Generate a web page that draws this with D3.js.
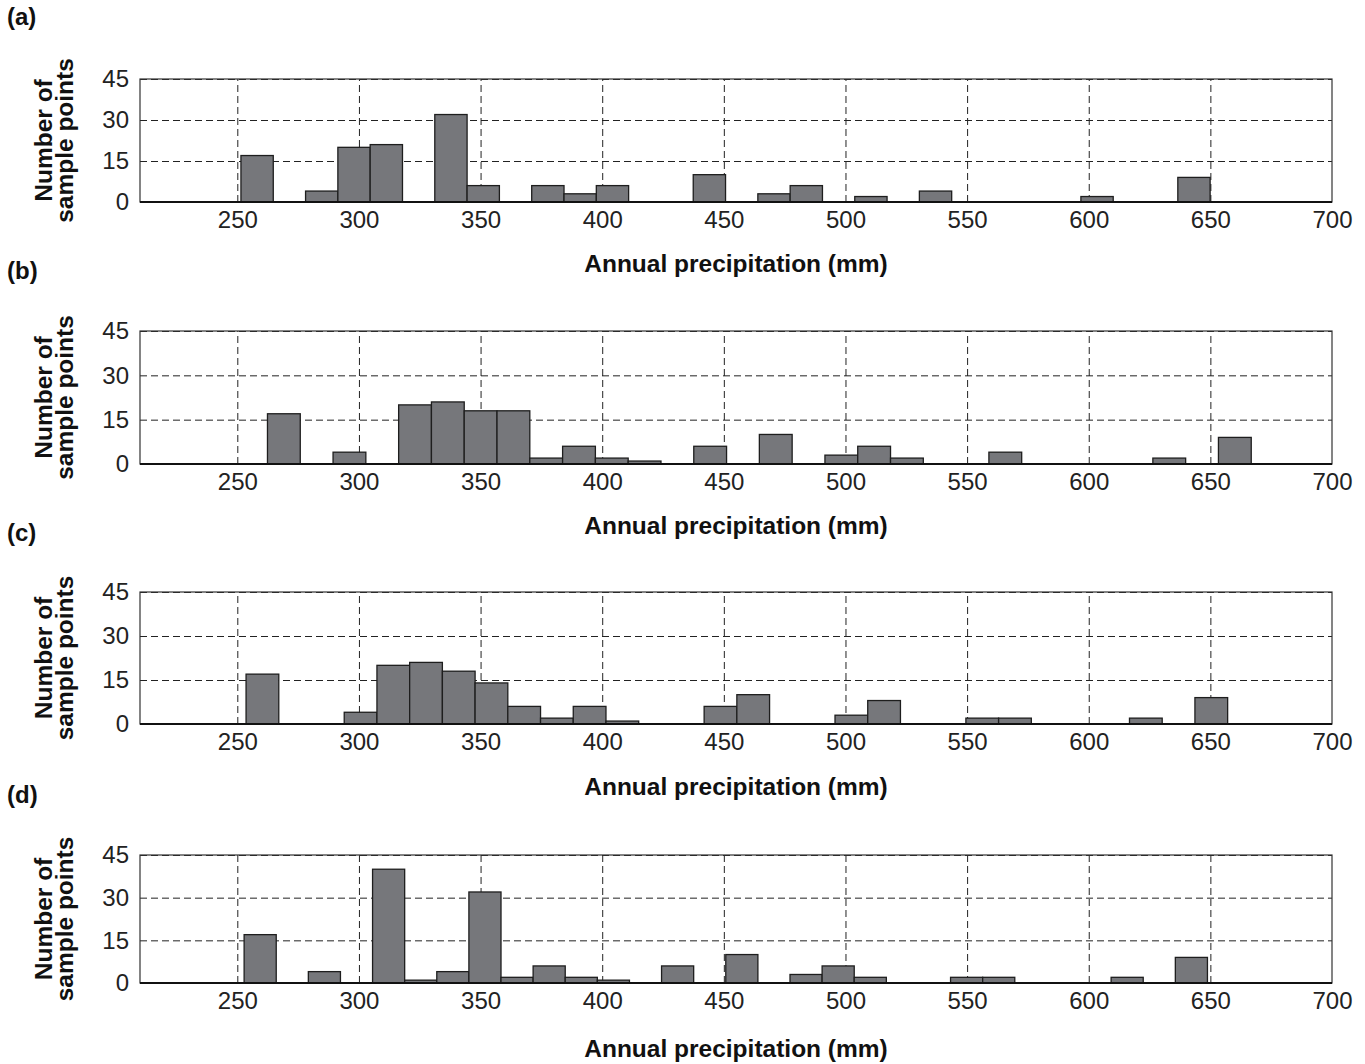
<!DOCTYPE html>
<html>
<head>
<meta charset="utf-8">
<script src="https://cdn.jsdelivr.net/npm/d3@7"></script>
<style>
  html, body { margin: 0; padding: 0; background: #fff; }
  svg { display: block; }
</style>
</head>
<body>
<svg id="chart" width="1365" height="1064"></svg>
<script>
// ---------------- data ----------------
const panelLabels = ["(a)", "(b)", "(c)", "(d)"];
const xTickValues = [250, 300, 350, 400, 450, 500, 550, 600, 650, 700];
const yTickValues = [0, 15, 30, 45];
const xTitle = "Annual precipitation (mm)";
const yTitleLines = ["Number of", "sample points"];

// histogram bins: first bin left edge and bin width (mm) per panel
const binStarts = [251.5, 262.4, 253.6, 252.8];
const binWidths = [13.28, 13.48, 13.45, 13.2];

// counts per bin (30 bins each)
const countsA = [17, 0, 4, 20, 21, 0, 32, 6, 0, 6, 3, 6, 0, 0, 10, 0, 3, 6, 0, 2, 0, 4, 0, 0, 0, 0, 2, 0, 0, 9];
const countsB = [17, 0, 4, 0, 20, 21, 18, 18, 2, 6, 2, 1, 0, 6, 0, 10, 0, 3, 6, 2, 0, 0, 4, 0, 0, 0, 0, 2, 0, 9];
const countsC = [17, 0, 0, 4, 20, 21, 18, 14, 6, 2, 6, 1, 0, 0, 6, 10, 0, 0, 3, 8, 0, 0, 2, 2, 0, 0, 0, 2, 0, 9];
const countsD = [17, 0, 4, 0, 40, 1, 4, 32, 2, 6, 2, 1, 0, 6, 0, 10, 0, 3, 6, 2, 0, 0, 2, 2, 0, 0, 0, 2, 0, 9];
const allCounts = [countsA, countsB, countsC, countsD];

// ---------------- layout ----------------
const plotLeft = 140, plotRight = 1332;
const panelTops = [79, 331, 592, 855];
const panelBottoms = [202, 464, 724, 983];
const labelBaselines = [25, 279, 541, 803];
const titleBaselines = [272, 534, 795, 1057];

const svg = d3.select("#chart");
const x = d3.scaleLinear().domain([210, 700]).range([plotLeft, plotRight]);

allCounts.forEach((counts, p) => {
  const top = panelTops[p], bottom = panelBottoms[p];
  const y = d3.scaleLinear().domain([0, 45]).range([bottom, top]);
  const g = svg.append("g");

  // grid (dashed)
  g.append("g")
    .attr("transform", `translate(0,${bottom})`)
    .call(d3.axisBottom(x).tickValues(xTickValues.filter(v => v < 700)).tickSize(-(bottom - top)).tickFormat(""))
    .call(a => a.select(".domain").remove())
    .selectAll("line").attr("stroke", "#222").attr("stroke-width", 1).attr("stroke-dasharray", "7,4");
  g.append("g")
    .attr("transform", `translate(${plotLeft},0)`)
    .call(d3.axisLeft(y).tickValues(yTickValues.filter(v => v > 0)).tickSize(-(plotRight - plotLeft)).tickFormat(""))
    .call(a => a.select(".domain").remove())
    .selectAll("line").attr("stroke", "#222").attr("stroke-width", 1).attr("stroke-dasharray", "7,4");

  // bars
  const bins = counts.map((c, i) => ({
    x0: binStarts[p] + i * binWidths[p],
    x1: binStarts[p] + (i + 1) * binWidths[p],
    c
  })).filter(d => d.c > 0);
  g.selectAll("rect.bar").data(bins).join("rect")
    .attr("class", "bar")
    .attr("x", d => x(d.x0))
    .attr("width", d => x(d.x1) - x(d.x0))
    .attr("y", d => y(d.c))
    .attr("height", d => y(0) - y(d.c))
    .attr("fill", "#76777b")
    .attr("stroke", "#1e1e1e")
    .attr("stroke-width", 1.3);

  // frame
  g.append("rect")
    .attr("x", plotLeft).attr("y", top)
    .attr("width", plotRight - plotLeft).attr("height", bottom - top)
    .attr("fill", "none").attr("stroke", "#333").attr("stroke-width", 1.2);
  g.append("line")
    .attr("x1", plotLeft).attr("x2", plotRight)
    .attr("y1", bottom).attr("y2", bottom)
    .attr("stroke", "#111").attr("stroke-width", 2);

  // x tick labels
  g.append("g")
    .attr("transform", `translate(0,${bottom})`)
    .call(d3.axisBottom(x).tickValues(xTickValues).tickSize(0).tickPadding(9).tickFormat(d3.format("d")))
    .call(a => a.select(".domain").remove())
    .selectAll("text")
    .attr("font-family", "'Liberation Sans', Arial, sans-serif")
    .attr("font-size", 24).attr("fill", "#222");

  // y tick labels
  g.append("g")
    .attr("transform", `translate(${plotLeft},0)`)
    .call(d3.axisLeft(y).tickValues(yTickValues).tickSize(0).tickPadding(11).tickFormat(d3.format("d")))
    .call(a => a.select(".domain").remove())
    .selectAll("text")
    .attr("font-family", "'Liberation Sans', Arial, sans-serif")
    .attr("font-size", 24).attr("fill", "#222");

  // panel label
  g.append("text")
    .attr("x", 7).attr("y", labelBaselines[p])
    .attr("font-family", "'Liberation Sans', Arial, sans-serif")
    .attr("font-weight", "bold").attr("font-size", 24).attr("fill", "#111")
    .text(panelLabels[p]);

  // x title
  g.append("text")
    .attr("x", (plotLeft + plotRight) / 2).attr("y", titleBaselines[p])
    .attr("text-anchor", "middle")
    .attr("font-family", "'Liberation Sans', Arial, sans-serif")
    .attr("font-weight", "bold").attr("font-size", 24.5).attr("fill", "#111")
    .text(xTitle);

  // y title (two lines, rotated)
  const cy = (top + bottom) / 2;
  const yt = g.append("text")
    .attr("transform", `translate(0,${cy}) rotate(-90)`)
    .attr("text-anchor", "middle")
    .attr("font-family", "'Liberation Sans', Arial, sans-serif")
    .attr("font-weight", "bold").attr("font-size", 24.5).attr("fill", "#111");
  yt.append("tspan").attr("x", 0).attr("y", 52).text(yTitleLines[0]);
  yt.append("tspan").attr("x", 0).attr("y", 73).text(yTitleLines[1]);
});
</script>
</body>
</html>
